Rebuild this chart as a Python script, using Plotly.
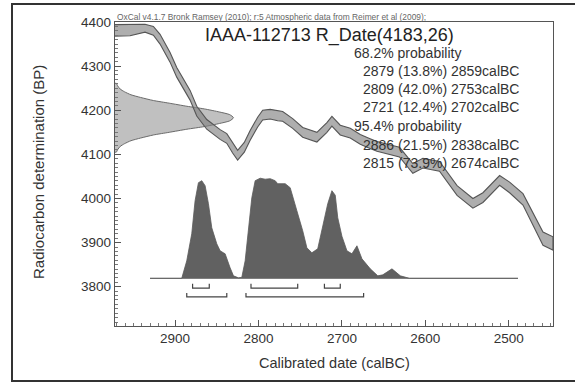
import plotly.graph_objects as go

# ---------------- data ----------------
# Calibration curve (IntCal09 band): calendar year (calBC), mean BP, half-width BP
cal_years = [2972, 2954, 2936, 2926, 2918, 2906, 2898, 2882, 2874, 2862, 2846, 2838,
             2831, 2825, 2817, 2810, 2801, 2795, 2786, 2777, 2771, 2759, 2747, 2730,
             2718, 2712, 2702, 2690, 2678, 2667, 2658, 2643, 2631, 2615, 2603, 2583,
             2562, 2543, 2531, 2511, 2499, 2483, 2471, 2459, 2447]
cal_bp = [4381, 4382, 4386, 4380, 4361, 4320, 4286, 4234, 4198, 4168, 4145, 4136,
          4114, 4098, 4116, 4143, 4173, 4189, 4191, 4187, 4186, 4170, 4150, 4139,
          4161, 4175, 4155, 4148, 4134, 4125, 4118, 4111, 4105, 4068, 4080, 4073,
          4018, 3989, 4002, 4041, 4025, 3998, 3955, 3909, 3898]
cal_err = [13, 13, 9, 10, 11, 11, 11, 11, 11, 11, 11, 11,
           11, 11, 11, 11, 11, 11, 11, 11, 11, 11, 11, 11,
           11, 11, 11, 11, 11, 11, 11, 11, 11, 11, 11, 11,
           11, 11, 11, 11, 12, 13, 14, 15, 15]

# Radiocarbon measurement R_Date(4183,26): BP and relative probability
rdate_bp = [4105, 4111, 4118, 4124, 4131, 4137, 4144, 4150, 4157, 4163, 4170, 4176, 4183,
            4190, 4196, 4203, 4209, 4216, 4222, 4229, 4235, 4242, 4248, 4255, 4261]
rdate_prob = [0.011, 0.023, 0.044, 0.079, 0.135, 0.216, 0.325, 0.458, 0.607, 0.755, 0.882,
              0.969, 1.0, 0.969, 0.882, 0.755, 0.607, 0.458, 0.325, 0.216, 0.135, 0.079,
              0.044, 0.023, 0.011]

# Calibrated date distribution: calBC and relative probability
calib_years = [2930, 2892, 2886, 2880, 2876, 2872, 2868, 2864, 2860, 2856, 2850, 2846,
               2842, 2840, 2834, 2830, 2824, 2820, 2816, 2812, 2808, 2804, 2798, 2792,
               2786, 2780, 2777, 2768, 2762, 2754, 2747, 2742, 2736, 2729, 2723, 2717,
               2712, 2708, 2705, 2700, 2694, 2688, 2682, 2676, 2666, 2657, 2651, 2640,
               2630, 2622, 2619, 2489]
calib_prob = [0.0, 0.0, 0.175, 0.445, 0.775, 0.955, 0.975, 0.925, 0.745, 0.505, 0.345, 0.275,
              0.255, 0.245, 0.105, 0.025, 0.005, 0.01, 0.175, 0.505, 0.805, 0.975, 1.0, 0.99,
              0.995, 0.975, 0.945, 0.945, 0.905, 0.675, 0.475, 0.305, 0.255, 0.295, 0.505, 0.745,
              0.875, 0.83, 0.605, 0.42, 0.275, 0.245, 0.325, 0.195, 0.095, 0.025, 0.035, 0.095,
              0.025, 0.005, 0.0, 0.0]

# Probability ranges (from, to) calBC
ranges_68 = [(2879, 2859), (2809, 2753), (2721, 2702)]
ranges_95 = [(2886, 2838), (2815, 2674)]
ranges_68_pct = [13.8, 42.0, 12.4]
ranges_95_pct = [21.5, 73.9]

sample_name = "IAAA-112713"
rdate_mean, rdate_sd = 4183, 26

x_ticks = [2900, 2800, 2700, 2600, 2500]
y_ticks = [3800, 3900, 4000, 4100, 4200, 4300, 4400]

# ---------------- layout constants ----------------
W, H = 575, 383
L, R, T, B = 115, 553, 22, 326
X_RANGE = [2972, 2447]
Y_RANGE = [3711, 4400]
DIST_BASE = 3819
DIST_SCALE = 227
RDATE_SCALE = 142

FONT = "Liberation Sans, Arial, Helvetica, sans-serif"


def px(xp):
    return (xp - L) / (R - L)


def py(yp):
    return (B - yp) / (B - T)


fig = go.Figure()

# R_Date gaussian on the y axis
gx = [X_RANGE[0] - p * RDATE_SCALE for p in rdate_prob]
fig.add_trace(go.Scatter(
    x=[X_RANGE[0]] + gx + [X_RANGE[0]],
    y=[rdate_bp[0]] + rdate_bp + [rdate_bp[-1]],
    mode="lines", fill="toself",
    fillcolor="rgba(165,165,165,0.7)",
    line=dict(color="#6a6a6a", width=1, shape="spline", smoothing=0.6),
    hoverinfo="skip", showlegend=False))

# Calibration curve band
upper = [m + e for m, e in zip(cal_bp, cal_err)]
lower = [m - e for m, e in zip(cal_bp, cal_err)]
fig.add_trace(go.Scatter(
    x=cal_years + cal_years[::-1], y=upper + lower[::-1],
    mode="lines", fill="toself",
    fillcolor="rgba(130,130,130,0.65)",
    line=dict(color="#555555", width=1.1),
    hoverinfo="skip", showlegend=False))

# Calibrated distribution baseline
fig.add_trace(go.Scatter(
    x=[calib_years[0], calib_years[-1]], y=[DIST_BASE, DIST_BASE],
    mode="lines", line=dict(color="#8a8a8a", width=1.2),
    hoverinfo="skip", showlegend=False))

# Calibrated distribution
fig.add_trace(go.Scatter(
    x=calib_years, y=[DIST_BASE + p * DIST_SCALE for p in calib_prob],
    mode="lines", fill="toself", fillcolor="#616161",
    line=dict(color="#5a5a5a", width=0.8),
    hoverinfo="skip", showlegend=False))

# Range brackets
def bracket(a, b, y_low, y_high):
    fig.add_trace(go.Scatter(
        x=[a, a, b, b], y=[y_high, y_low, y_low, y_high],
        mode="lines", line=dict(color="#444444", width=1.2),
        hoverinfo="skip", showlegend=False))

for a, b in ranges_68:
    bracket(a, b, 3797, 3807)
for a, b in ranges_95:
    bracket(a, b, 3777, 3786)

# ---------------- annotations ----------------
ann = []
ann.append(dict(x=px(115), y=py(17), xref="paper", yref="paper", xanchor="left", yanchor="middle",
                text="OxCal v4.1.7 Bronk Ramsey (2010); r:5 Atmospheric data from Reimer et al (2009);",
                showarrow=False, font=dict(family=FONT, size=8.4, color="#666666")))
ann.append(dict(x=px(329.5), y=py(35), xref="paper", yref="paper", xanchor="center", yanchor="middle",
                text=f"{sample_name} R_Date({rdate_mean},{rdate_sd})",
                showarrow=False, font=dict(family=FONT, size=18, color="#222222")))

lines = [("68.2% probability", 352)]
for (a, b), p in zip(ranges_68, ranges_68_pct):
    lines.append((f"{a} ({p:.1f}%) {b}calBC", 361))
lines.append(("95.4% probability", 352))
for (a, b), p in zip(ranges_95, ranges_95_pct):
    lines.append((f"{a} ({p:.1f}%) {b}calBC", 361))
line_y = [53, 71, 89, 107, 126, 145, 163]
for (txt, xl), yl in zip(lines, line_y):
    ann.append(dict(x=px(xl), y=py(yl), xref="paper", yref="paper", xanchor="left", yanchor="middle",
                    text=txt, showarrow=False, font=dict(family=FONT, size=14, color="#333333")))

ann.append(dict(x=px(38), y=py(172), xref="paper", yref="paper", xanchor="center", yanchor="middle",
                text="Radiocarbon determination (BP)", textangle=-90, showarrow=False,
                font=dict(family=FONT, size=15, color="#333333")))
ann.append(dict(x=px(334), y=py(363), xref="paper", yref="paper", xanchor="center", yanchor="middle",
                text="Calibrated date (calBC)", showarrow=False,
                font=dict(family=FONT, size=14.5, color="#333333")))

# Outer frame
shapes = [dict(type="rect", xref="paper", yref="paper",
               x0=px(12), x1=px(590), y0=py(381), y1=py(4),
               line=dict(color="#333333", width=2), fillcolor="rgba(0,0,0,0)", layer="above")]

axis_common = dict(showgrid=False, zeroline=False, showline=True, mirror=True,
                   linecolor="#555555", linewidth=1.3,
                   ticks="inside", ticklen=6, tickwidth=1, tickcolor="#555555",
                   tickfont=dict(family=FONT, size=13.5, color="#333333"))

fig.update_layout(
    width=W, height=H,
    margin=dict(l=L, r=W - R, t=T, b=H - B),
    paper_bgcolor="white", plot_bgcolor="white",
    xaxis=dict(range=X_RANGE, tickvals=x_ticks,
               minor=dict(dtick=10, tick0=0, ticks="inside", ticklen=3, tickcolor="#777777"),
               **axis_common),
    yaxis=dict(range=Y_RANGE, tickvals=y_ticks,
               minor=dict(dtick=10, tick0=0, ticks="inside", ticklen=3, tickcolor="#777777"),
               **axis_common),
    annotations=ann, shapes=shapes,
    showlegend=False,
)

fig.write_html("out.html", config={"displayModeBar": False},
               post_script="document.body.style.margin='0px';")
